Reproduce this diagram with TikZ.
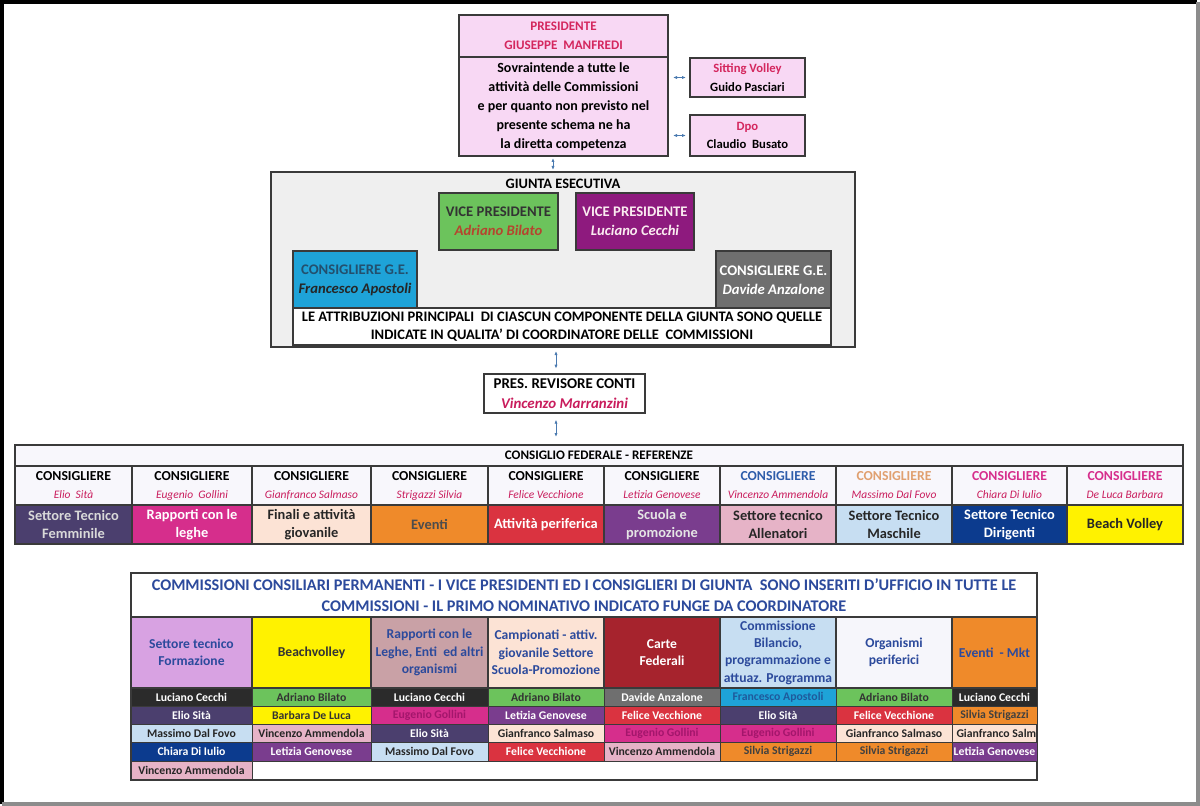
\documentclass[tikz,border=0pt]{standalone}
\usepackage{fontspec}
\setmainfont{Carlito}
\usetikzlibrary{arrows.meta,calc}
\definecolor{cSlate}{HTML}{4B3F6E}
\definecolor{cMagenta}{HTML}{D62E8C}
\definecolor{cMagText}{HTML}{A3166C}
\definecolor{cPeach}{HTML}{FCE3D5}
\definecolor{cOrange}{HTML}{EF8A2A}
\definecolor{cRed}{HTML}{DA3340}
\definecolor{cPurple}{HTML}{7A3D8E}
\definecolor{cPink}{HTML}{E6B3C7}
\definecolor{cLBlue}{HTML}{C7DEF2}
\definecolor{cDBlue}{HTML}{0C3B8E}
\definecolor{cYellow}{HTML}{FFF200}
\definecolor{cBlack}{HTML}{2B2B2B}
\definecolor{cGreen}{HTML}{6CC35C}
\definecolor{cGray}{HTML}{6F6F6F}
\definecolor{cCyan}{HTML}{1EA3D8}
\definecolor{cFAText}{HTML}{1E5A9C}
\definecolor{cLilac}{HTML}{D8A2E2}
\definecolor{cRose}{HTML}{C9A1A6}
\definecolor{cDRed}{HTML}{A6232D}
\definecolor{cWhiteish}{HTML}{F6F6FB}
\definecolor{cfRow}{HTML}{F8F7FC}
\definecolor{tBlue}{HTML}{2C4A9C}
\definecolor{tName}{HTML}{C91C5C}
\definecolor{tOrange}{HTML}{E0A070}
\definecolor{tCons}{HTML}{2E5DAA}
\definecolor{lineC}{HTML}{3A3A3A}
\definecolor{arrowC}{HTML}{4A7AB0}
\definecolor{presFill}{HTML}{F8D8F4}
\definecolor{presText}{HTML}{D4275E}
\definecolor{giuntaFill}{HTML}{EFEFEF}
\definecolor{vpPurple}{HTML}{8E1A7E}
\definecolor{abText}{HTML}{B5452E}
\definecolor{cgText}{HTML}{23506E}
\newcommand{\myfs}[2]{\fontsize{#1}{#2}\selectfont}
\newcommand{\cellbox}[7]{%
  \pgfmathsetmacro{\cbw}{(#4-#2)*0.75}%
  \pgfmathsetmacro{\cbh}{(#5-#3)*0.75}%
  \node[#6, minimum width=\cbw pt, minimum height=\cbh pt] (#1) at ({(#2+#4)/2},{(#3+#5)/2}) {#7};%
}
\tikzset{
  box/.style={draw=lineC, line width=0.9pt, inner sep=1pt, outer sep=0pt, align=center, text=black},
  biarrow/.style={draw=arrowC, line width=0.6pt, {Latex[length=3pt,width=2.4pt]}-{Latex[length=3pt,width=2.4pt]}},
  nmcell/.style={box, line width=0.6pt, font=\bfseries\myfs{8.8}{10}},
  cfcons/.style={box, fill=cfRow, font=\bfseries\myfs{10.3}{13.5}},
  cfarea/.style={box, font=\bfseries\myfs{10.8}{13.5}},
  cmhd/.style={box, font=\bfseries\myfs{10.2}{13}},
  gbox/.style={box, font=\bfseries\myfs{11}{14}},
  pLC/.style={fill=cBlack, text=white},
  pES/.style={fill=cSlate, text=white},
  pMDF/.style={fill=cLBlue, text=black!85},
  pCDI/.style={fill=cDBlue, text=white},
  pVA/.style={fill=cPink, text=black!85},
  pAB/.style={fill=cGreen, text=black!80},
  pBDL/.style={fill=cYellow, text=black!80},
  pLG/.style={fill=cPurple, text=white},
  pEG/.style={fill=cMagenta, text=cMagText},
  pGS/.style={fill=cPeach, text=black!85},
  pFV/.style={fill=cRed, text=white},
  pDA/.style={fill=cGray, text=white},
  pFA/.style={fill=cCyan, text=cFAText},
  pSS/.style={fill=cOrange, text=black!75},
}
\newcommand{\cnm}[1]{{\mdseries\itshape\myfs{8.6}{10}\color{tName}#1}}
\begin{document}
\begin{tikzpicture}[x=0.75pt,y=-0.75pt]
\useasboundingbox (0,0) rectangle (1200,806);
\fill[white] (0,0) rectangle (1200,806);
% frame
\draw[black, line width=3pt] (2,804) -- (2,2) -- (1197,2);
\draw[black!45, line width=2.6pt] (1198,2) -- (1198,804) -- (2,804);

% ---------- President ----------
\cellbox{prestop}{459}{15}{668}{57}{box,fill=presFill,text=presText,font=\bfseries\myfs{9.8}{14.2}}{PRESIDENTE\\GIUSEPPE\ \ MANFREDI}
\cellbox{pres}{459}{57}{668}{156}{box,fill=presFill,font=\bfseries\myfs{10.5}{14.25}}{Sovraintende a tutte le\\attività delle Commissioni\\e per quanto non previsto nel\\presente schema ne ha\\la diretta competenza}
\cellbox{sv}{690}{58}{805}{97}{box,fill=presFill,font=\bfseries\myfs{9.5}{14}}{\textcolor{presText}{Sitting Volley}\\Guido Pasciari}
\cellbox{dpo}{690}{115}{805}{156}{box,fill=presFill,font=\bfseries\myfs{9.5}{14}}{\textcolor{presText}{Dpo}\\Claudio\ \ Busato}
\draw[biarrow, shorten <=5pt*0.75, shorten >=3pt] (pres.east |- sv.west) -- (sv.west);
\draw[biarrow, shorten <=5pt*0.75, shorten >=3pt] (pres.east |- dpo.west) -- (dpo.west);

% ---------- Giunta ----------
\cellbox{giunta}{271}{172}{855}{347}{box,fill=giuntaFill,line width=1.3pt}{}
\node[font=\bfseries\myfs{10.8}{12}, inner sep=0pt] (gtitle) at (563,184) {GIUNTA ESECUTIVA};
\draw[biarrow, shorten <=1.5pt, shorten >=1.5pt] (553,0 |- pres.south) -- (553,0 |- giunta.north);
\cellbox{vp1}{439}{193}{558}{250}{gbox,fill=cGreen,text=black!80}{VICE PRESIDENTE\\{\itshape\color{abText}Adriano Bilato}}
\cellbox{vp2}{576}{193}{694}{250}{gbox,fill=vpPurple,text=white!92!purple}{VICE PRESIDENTE\\{\itshape Luciano Cecchi}}
\cellbox{cg1}{293}{251}{417}{310}{gbox,fill=cCyan,text=cgText}{CONSIGLIERE G.E.\\{\itshape\color{black!85}Francesco Apostoli}}
\cellbox{cg2}{716}{251}{831}{310}{gbox,fill=cGray,text=white}{CONSIGLIERE G.E.\\{\itshape Davide Anzalone}}
\cellbox{gwhite}{293}{308}{831}{345}{box,fill=white,font=\bfseries\myfs{10.9}{13.5}}{LE ATTRIBUZIONI PRINCIPALI\ \ DI CIASCUN COMPONENTE DELLA GIUNTA SONO QUELLE\\INDICATE IN QUALITA' DI COORDINATORE DELLE\ \ COMMISSIONI}

% ---------- Revisore ----------
\cellbox{rev}{484}{374}{645}{413}{box,fill=white,line width=1.1pt,font=\bfseries\myfs{11.2}{14.5}}{PRES. REVISORE CONTI\\{\itshape\color{tName}Vincenzo Marranzini}}
\draw[biarrow, shorten <=3pt, shorten >=4pt] (556,0 |- giunta.south) -- (556,0 |- rev.north);

% ---------- Consiglio federale ----------
\cellbox{cfframe}{15}{445}{1183}{544}{box,fill=white,line width=1.3pt}{}
\cellbox{cfhead}{15}{445}{1183}{466}{box,fill=cfRow,font=\bfseries\myfs{9.8}{12}}{CONSIGLIO FEDERALE - REFERENZE}
\draw[biarrow, shorten <=5pt, shorten >=6pt] (556,0 |- rev.south) -- (556,0 |- cfhead.north);
\cellbox{cfc1}{15}{466}{132}{505}{cfcons}{CONSIGLIERE\\\cnm{Elio\ \ Sità}}
\cellbox{cfc2}{132}{466}{252}{505}{cfcons}{CONSIGLIERE\\\cnm{Eugenio\ \ Gollini}}
\cellbox{cfc3}{252}{466}{371}{505}{cfcons}{CONSIGLIERE\\\cnm{Gianfranco Salmaso}}
\cellbox{cfc4}{371}{466}{488}{505}{cfcons}{CONSIGLIERE\\\cnm{Strigazzi Silvia}}
\cellbox{cfc5}{488}{466}{604}{505}{cfcons}{CONSIGLIERE\\\cnm{Felice Vecchione}}
\cellbox{cfc6}{604}{466}{720}{505}{cfcons}{CONSIGLIERE\\\cnm{Letizia Genovese}}
\cellbox{cfc7}{720}{466}{836}{505}{cfcons,text=tCons}{CONSIGLIERE\\\cnm{Vincenzo Ammendola}}
\cellbox{cfc8}{836}{466}{952}{505}{cfcons,text=tOrange}{CONSIGLIERE\\\cnm{Massimo Dal Fovo}}
\cellbox{cfc9}{952}{466}{1067}{505}{cfcons,text=cMagenta}{CONSIGLIERE\\\cnm{Chiara Di Iulio}}
\cellbox{cfc10}{1067}{466}{1183}{505}{cfcons,text=cMagenta}{CONSIGLIERE\\\cnm{De Luca Barbara}}
\cellbox{cfa1}{15}{505}{132}{544}{cfarea,fill=cSlate,text=white!85!black}{Settore Tecnico\\Femminile}
\cellbox{cfa2}{132}{505}{252}{544}{cfarea,fill=cMagenta,text=white}{Rapporti con le\\leghe}
\cellbox{cfa3}{252}{505}{371}{544}{cfarea,fill=cPeach,text=black!85}{Finali e attività\\giovanile}
\cellbox{cfa4}{371}{505}{488}{544}{cfarea,fill=cOrange,text=black!70}{Eventi}
\cellbox{cfa5}{488}{505}{604}{544}{cfarea,fill=cRed,text=white}{Attività periferica}
\cellbox{cfa6}{604}{505}{720}{544}{cfarea,fill=cPurple,text=white!90!black}{Scuola e\\promozione}
\cellbox{cfa7}{720}{505}{836}{544}{cfarea,fill=cPink,text=black!85}{Settore tecnico\\Allenatori}
\cellbox{cfa8}{836}{505}{952}{544}{cfarea,fill=cLBlue,text=black!85}{Settore Tecnico\\Maschile}
\cellbox{cfa9}{952}{505}{1067}{544}{cfarea,fill=cDBlue,text=white}{Settore Tecnico\\Dirigenti}
\cellbox{cfa10}{1067}{505}{1183}{544}{cfarea,fill=cYellow,text=black!85}{Beach Volley}

% ---------- Commissioni ----------
\cellbox{cmframe}{131}{573}{1037}{780}{box,fill=white,line width=1.3pt}{}
\cellbox{cmhead}{131}{573}{1037}{617}{box,fill=white,text=tBlue,font=\bfseries\myfs{12.2}{15.75}}{COMMISSIONI CONSILIARI PERMANENTI - I VICE PRESIDENTI ED I CONSIGLIERI DI GIUNTA\ \ SONO INSERITI D'UFFICIO IN TUTTE LE\\COMMISSIONI - IL PRIMO NOMINATIVO INDICATO FUNGE DA COORDINATORE}
\cellbox{cmh1}{131}{617}{252}{688}{cmhd,fill=cLilac,text=tBlue}{Settore tecnico\\Formazione}
\cellbox{cmh2}{252}{617}{371}{688}{cmhd,fill=cYellow,text=black!80}{Beachvolley}
\cellbox{cmh3}{371}{617}{488}{688}{cmhd,fill=cRose,text=tBlue}{Rapporti con le\\Leghe, Enti\ \ ed altri\\organismi}
\cellbox{cmh4}{488}{617}{604}{688}{cmhd,fill=cPeach,text=tBlue}{Campionati - attiv.\\giovanile Settore\\Scuola-Promozione}
\cellbox{cmh5}{604}{617}{720}{688}{cmhd,fill=cDRed,text=white}{Carte\\Federali}
\cellbox{cmh6}{720}{617}{836}{688}{cmhd,fill=cLBlue,text=tBlue}{Commissione\\Bilancio,\\programmazione e\\attuaz. Programma}
\cellbox{cmh7}{836}{617}{952}{688}{cmhd,fill=cWhiteish,text=tBlue}{Organismi\\periferici}
\cellbox{cmh8}{952}{617}{1037}{688}{cmhd,fill=cOrange,text=tBlue}{Eventi\ \ - Mkt}
% column 1
\cellbox{a1}{131}{688}{252}{706}{nmcell,pLC}{Luciano Cecchi}
\cellbox{a2}{131}{706}{252}{724}{nmcell,pES}{Elio Sità}
\cellbox{a3}{131}{724}{252}{742}{nmcell,pMDF}{Massimo Dal Fovo}
\cellbox{a4}{131}{742}{252}{761}{nmcell,pCDI}{Chiara Di Iulio}
\cellbox{a5}{131}{761}{252}{779}{nmcell,pVA}{Vincenzo Ammendola}
% column 2
\cellbox{b1}{252}{688}{371}{706}{nmcell,pAB}{Adriano Bilato}
\cellbox{b2}{252}{706}{371}{724}{nmcell,pBDL}{Barbara De Luca}
\cellbox{b3}{252}{724}{371}{742}{nmcell,pVA}{Vincenzo Ammendola}
\cellbox{b4}{252}{742}{371}{761}{nmcell,pLG}{Letizia Genovese}
% column 3
\cellbox{c1}{371}{688}{488}{706}{nmcell,pLC}{Luciano Cecchi}
\cellbox{c2}{371}{706}{488}{724}{nmcell,pEG}{Eugenio Gollini}
\cellbox{c3}{371}{724}{488}{742}{nmcell,pES}{Elio Sità}
\cellbox{c4}{371}{742}{488}{761}{nmcell,pMDF}{Massimo Dal Fovo}
% column 4
\cellbox{d1}{488}{688}{604}{706}{nmcell,pAB}{Adriano Bilato}
\cellbox{d2}{488}{706}{604}{724}{nmcell,pLG}{Letizia Genovese}
\cellbox{d3}{488}{724}{604}{742}{nmcell,pGS}{Gianfranco Salmaso}
\cellbox{d4}{488}{742}{604}{761}{nmcell,pFV}{Felice Vecchione}
% column 5
\cellbox{e1}{604}{688}{720}{706}{nmcell,pDA}{Davide Anzalone}
\cellbox{e2}{604}{706}{720}{724}{nmcell,pFV}{Felice Vecchione}
\cellbox{e3}{604}{724}{720}{742}{nmcell,pEG}{Eugenio Gollini}
\cellbox{e4}{604}{742}{720}{761}{nmcell,pVA}{Vincenzo Ammendola}
% column 6
\cellbox{f1}{720}{688}{836}{706}{nmcell,pFA}{Francesco Apostoli}
\cellbox{f2}{720}{706}{836}{724}{nmcell,pES}{Elio Sità}
\cellbox{f3}{720}{724}{836}{742}{nmcell,pEG}{Eugenio Gollini}
\cellbox{f4}{720}{742}{836}{761}{nmcell,pSS}{Silvia Strigazzi}
% column 7
\cellbox{g1}{836}{688}{952}{706}{nmcell,pAB}{Adriano Bilato}
\cellbox{g2}{836}{706}{952}{724}{nmcell,pFV}{Felice Vecchione}
\cellbox{g3}{836}{724}{952}{742}{nmcell,pGS}{Gianfranco Salmaso}
\cellbox{g4}{836}{742}{952}{761}{nmcell,pSS}{Silvia Strigazzi}
% column 8
\cellbox{h1}{952}{688}{1037}{706}{nmcell,pLC}{Luciano Cecchi}
\cellbox{h2}{952}{706}{1037}{724}{nmcell,pSS}{Silvia Strigazzi}
\begin{scope}
\clip (952,723) rectangle (1037,743);
\cellbox{h3}{952}{724}{1037}{742}{nmcell,pGS}{\makebox[58pt][l]{\hspace{0.5pt}Gianfranco Salmaso}}
\end{scope}
\draw[draw=lineC, line width=0.9pt] (h3.north east) -- (h3.south east);
\cellbox{h4}{952}{742}{1037}{761}{nmcell,pLG}{Letizia Genovese}
\end{tikzpicture}
\end{document}
